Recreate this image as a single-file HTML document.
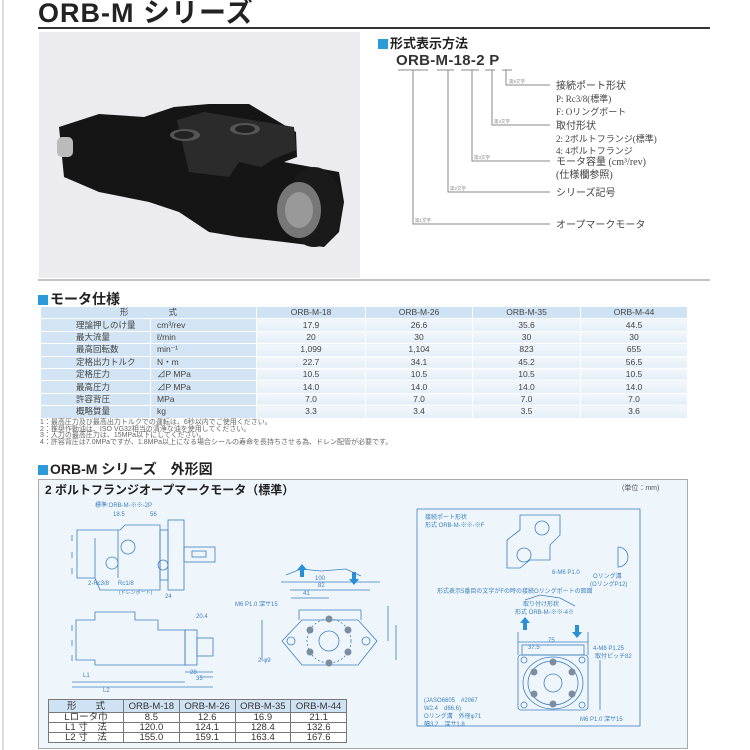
<!DOCTYPE html>
<html><head><meta charset="utf-8"><style>
*{margin:0;padding:0;box-sizing:border-box}
body{width:750px;height:750px;background:#fff;position:relative;overflow:hidden;font-family:"Liberation Sans","Noto Sans CJK JP",sans-serif;color:#333}
.a{position:absolute;white-space:nowrap}
.h{font-weight:bold;font-size:14px;color:#222}
.h:before{content:"";display:inline-block;width:10px;height:10px;background:#2a9ad8;margin-right:2px;vertical-align:-1px}
table{border-collapse:collapse;position:absolute;table-layout:fixed}
#sp{left:40px;top:306px;width:647px;font-size:8.5px}
#sp td{height:12.4px;line-height:11px;border:1px solid #fff;text-align:center;padding:0;color:#444;background:linear-gradient(#f3f8fc,#e4eef7);white-space:nowrap;overflow:hidden}
#sp td.l{background:#d3e5f4;text-align:left;padding-left:35px}
#sp td.u{background:#d3e5f4;text-align:left;padding-left:6px}
#sp tr:first-child td{background:#cfe3f4}
#bt{left:48px;top:699px;width:299px;font-size:9.5px;border:1px solid #555}
#bt td{border:1px solid #777;text-align:center;height:10px;padding:0;line-height:9px;background:#fff}
#bt tr:first-child td{background:#cfe2f3;height:13px}
.n{font-size:7px;color:#666;line-height:6.6px}
</style></head><body>
<div class="a" style="left:2px;top:0;width:2px;height:750px;background:#ddd"></div>
<div class="a" style="left:38px;top:0px;font-size:27px;line-height:27px;font-weight:bold;color:#222;letter-spacing:1px">ORB-M シリーズ</div>
<div class="a" style="left:38px;top:27px;width:672px;height:2px;background:#333"></div>
<div class="a" style="left:39px;top:32px;width:321px;height:246px;background:#ececee"></div>
<svg class="a" style="left:39px;top:32px" width="321" height="246">
<polygon points="20,95 60,82 105,85 135,75 170,72 210,72 257,100 258,125 245,130 300,140 305,170 300,200 285,215 245,210 200,205 170,200 140,180 110,170 60,160 25,145" fill="#151515"/>
<polygon points="138,88 165,80 255,95 257,118 235,127 222,135 200,130 190,145 150,140" fill="#2b2b2b"/>
<ellipse cx="146" cy="103" rx="15" ry="6" fill="#555"/><ellipse cx="206" cy="97" rx="15" ry="6" fill="#555"/>
<ellipse cx="145" cy="103" rx="10" ry="4" fill="#222"/><ellipse cx="206" cy="97" rx="10" ry="4" fill="#222"/>
<rect x="18" y="105" width="16" height="20" rx="5" fill="#bbb"/>
<ellipse cx="275" cy="175" rx="28" ry="40" fill="#1a1a1a"/>
<ellipse cx="260" cy="178" rx="22" ry="28" fill="#777"/>
<ellipse cx="260" cy="178" rx="14" ry="18" fill="#999"/>
</svg>
<div class="a h" style="left:378px;top:33px;font-size:13px">形式表示方法</div>
<div class="a" style="left:396px;top:52px;font-size:15px;font-weight:bold;color:#333;letter-spacing:0.3px">ORB-M-18-2 P</div>
<svg class="a" style="left:0;top:0" width="750" height="300">
<g stroke="#888" stroke-width="1" fill="none">
<path d="M398 70h30M437 70h17M461 70h18M485 70h10M502 70h10"/>
<path d="M413 70V224H550M448 70V192H550M472 70V161H550M492 70V125H550M506 70V85H550"/>
<path d="M38 280H710"/>
</g>
<g font-size="4.5" fill="#888" font-family="Liberation Sans,Noto Sans CJK JP,sans-serif">
<text x="415" y="222">第1文字</text><text x="450" y="190">第2文字</text><text x="474" y="159">第3文字</text><text x="494" y="123">第4文字</text><text x="509" y="83">第5文字</text>
</g>
<g font-size="10" fill="#444" font-family="Liberation Serif,Noto Sans CJK JP,sans-serif">
<text x="556" y="89">接続ポート形状</text><text x="556" y="102" font-size="9">P:  Rc3/8(標準)</text><text x="556" y="115" font-size="9">F:  Oリングポート</text>
<text x="556" y="129">取付形状</text><text x="556" y="142" font-size="9">2:  2ボルトフランジ(標準)</text><text x="556" y="154" font-size="9">4:  4ボルトフランジ</text>
<text x="556" y="165">モータ容量 (cm³/rev)</text><text x="556" y="178">(仕様欄参照)</text>
<text x="556" y="196">シリーズ記号</text><text x="556" y="228">オープマークモータ</text>
</g></svg>
<div class="a h" style="left:38px;top:289px">モータ仕様</div>
<table id="sp">
<colgroup><col style="width:110px"><col style="width:106px"><col style="width:109px"><col style="width:107px"><col style="width:108px"><col style="width:107px"></colgroup>
<tr><td colspan="2" style="letter-spacing:40px;padding-left:40px">形式</td><td>ORB-M-18</td><td>ORB-M-26</td><td>ORB-M-35</td><td>ORB-M-44</td></tr>
<tr><td class="l">理論押しのけ量</td><td class="u">cm³/rev</td><td>17.9</td><td>26.6</td><td>35.6</td><td>44.5</td></tr>
<tr><td class="l">最大流量</td><td class="u">ℓ/min</td><td>20</td><td>30</td><td>30</td><td>30</td></tr>
<tr><td class="l">最高回転数</td><td class="u">min⁻¹</td><td>1,099</td><td>1,104</td><td>823</td><td>655</td></tr>
<tr><td class="l">定格出力トルク</td><td class="u">N・m</td><td>22.7</td><td>34.1</td><td>45.2</td><td>56.5</td></tr>
<tr><td class="l">定格圧力</td><td class="u">⊿P  MPa</td><td>10.5</td><td>10.5</td><td>10.5</td><td>10.5</td></tr>
<tr><td class="l">最高圧力</td><td class="u">⊿P  MPa</td><td>14.0</td><td>14.0</td><td>14.0</td><td>14.0</td></tr>
<tr><td class="l">許容背圧</td><td class="u">MPa</td><td>7.0</td><td>7.0</td><td>7.0</td><td>7.0</td></tr>
<tr><td class="l">概略質量</td><td class="u">kg</td><td>3.3</td><td>3.4</td><td>3.5</td><td>3.6</td></tr>
</table>
<div class="a n" style="left:40px;top:420px">1：最高圧力及び最高出力トルクでの運転は、6秒以内でご使用ください。<br>2：推奨作動油は、ISO VG32相当の清浄な油を使用してください。<br>3：入力の最高圧力は、15MPa以下にしてください。<br>4：許容背圧は7.0MPaですが、1.8MPa以上になる場合シールの寿命を長持ちさせる為、ドレン配管が必要です。</div>
<div class="a h" style="left:38px;top:459px">ORB-M シリーズ　外形図</div>
<div class="a" style="left:38px;top:479px;width:650px;height:270px;background:#eef6fc;border:1px solid #aaa"></div>
<div class="a" style="left:45px;top:481px;font-size:12px;font-weight:bold;color:#222">2 ボルトフランジオープマークモータ（標準）</div>
<div class="a" style="left:622px;top:483px;font-size:7px;color:#555">(単位：mm)</div>
<svg class="a" style="left:0;top:0" width="750" height="750" font-family="Liberation Sans,Noto Sans CJK JP,sans-serif">
<g stroke="#3f7fbf" stroke-width="0.8" fill="none">
<rect x="417" y="509" width="223" height="217"/>
<path d="M77 530H120L125 525H160V590H100L95 578H77Z"/>
<rect x="168" y="520" width="16" height="70"/><rect x="160" y="530" width="8" height="50"/>
<rect x="184" y="547" width="31" height="15"/><rect x="192" y="551" width="14" height="6"/>
<path d="M72 535v6M72 552v6M72 568v6"/>
<circle cx="128" cy="547" r="7"/><circle cx="112" cy="563" r="6"/><circle cx="163" cy="565" r="5"/>
<path d="M95 538V578M118 530V578"/>
<path d="M76 620H95V612H135V620H158V630H185V665H95V660H76Z"/>
<rect x="185" y="630" width="12" height="35"/><rect x="197" y="638" width="16" height="18"/>
<path d="M72 625v6M72 640v6M72 655v6"/>
<path d="M72 682H185M72 687H213M185 672H213M200 677H213"/>
<path d="M299 620V610H361V620"/>
<path d="M282 641L302 620H358L377 641L358 665H302Z"/>
<circle cx="329" cy="641" r="10"/><circle cx="329" cy="641" r="22" stroke-dasharray="2 2"/>
<circle cx="291" cy="641" r="4"/><circle cx="366" cy="641" r="4"/>
<path d="M281 582H380M290 590H370M291 598H329"/>
<path d="M388 606V641M396 625V660M262 620V660"/>
<path d="M520 515H560V535L550 545V560H530L520 568H507V540L520 530Z"/>
<circle cx="542" cy="528" r="7"/><circle cx="524" cy="555" r="7"/>
<path d="M618 547a10 10 0 0 1 0 20Z"/>
<rect x="518" y="655" width="70" height="55" rx="3"/><rect x="522" y="645" width="62" height="10"/>
<ellipse cx="553" cy="683" rx="30" ry="26"/><ellipse cx="553" cy="683" rx="25" ry="22"/>
<circle cx="553" cy="683" r="9"/>
<circle cx="524" cy="660" r="3"/><circle cx="582" cy="660" r="3"/><circle cx="524" cy="705" r="3"/><circle cx="582" cy="705" r="3"/>
<path d="M518 642H588M518 632V655M588 632V655M600 660V710M525 600l15-5 20 3 15 8"/>
<path d="M286 575l15-6 20 2 25-2 15 7"/>
</g>
<g fill="#7c8da0">
<circle cx="329" cy="619" r="3.5"/><circle cx="329" cy="663" r="3.5"/><circle cx="310" cy="630" r="3.5"/><circle cx="348" cy="630" r="3.5"/><circle cx="310" cy="652" r="3.5"/><circle cx="348" cy="652" r="3.5"/>
<circle cx="553" cy="662" r="3.5"/><circle cx="553" cy="704" r="3.5"/><circle cx="534" cy="672" r="3.5"/><circle cx="572" cy="672" r="3.5"/><circle cx="534" cy="694" r="3.5"/><circle cx="572" cy="694" r="3.5"/>
</g>
<g fill="#2a8fd6"><path d="M300 577h4v-7h3l-5-6-5 6h3z"/><path d="M352 572h4v7h3l-5 6-5-6h3z"/><path d="M523 630h4v-7h3l-5-6-5 6h3z"/><path d="M575 625h4v7h3l-5 6-5-6h3z"/></g>
<g font-size="6" fill="#3f7fbf">
<text x="95" y="507">標準:ORB-M-※※-2P</text><text x="113" y="516">18.5</text><text x="150" y="516">56</text>
<text x="88" y="585">2-Rc3/8</text><text x="118" y="585">Rc1/8</text><text x="119" y="594" font-size="5">(ドレンポート)</text><text x="165" y="598">24</text>
<text x="315" y="580">100</text><text x="318" y="587">82</text><text x="303" y="595">41</text><text x="235" y="606">M6 P1.0 深サ15</text><text x="258" y="662">2-φ9</text>
<text x="196" y="618">20.4</text><text x="83" y="677">L1</text><text x="103" y="692">L2</text><text x="190" y="674">28</text><text x="196" y="680">35</text>
<text x="425" y="519">接続ポート形状</text><text x="425" y="527">形式 ORB-M-※※-※F</text>
<text x="437" y="593">形式表示5番目の文字がFの時の接続Oリングポートの図面</text>
<text x="593" y="578">Oリング溝</text><text x="590" y="586">(OリングP12)</text><text x="552" y="574">6-M6 P1.0</text>
<text x="523" y="606">取り付け形状</text><text x="515" y="614">形式 ORB-M-※※-4※</text>
<text x="548" y="642">75</text><text x="528" y="649">37.5</text><text x="593" y="650">4-M8 P1.25</text><text x="595" y="658">取付ピッチ82</text>
<text x="424" y="702">(JASO6605　#2067</text><text x="424" y="710">W2.4　d66.6)</text><text x="424" y="718">Oリング溝　外径φ71</text><text x="424" y="726">幅3.2　深サ1.8</text><text x="580" y="721">M6 P1.0 深サ15</text>
</g></svg>
<table id="bt">
<colgroup><col style="width:75px"><col><col><col><col></colgroup>
<tr><td>形　　式</td><td>ORB-M-18</td><td>ORB-M-26</td><td>ORB-M-35</td><td>ORB-M-44</td></tr>
<tr><td>Lロータ巾</td><td>8.5</td><td>12.6</td><td>16.9</td><td>21.1</td></tr>
<tr><td>L1 寸　法</td><td>120.0</td><td>124.1</td><td>128.4</td><td>132.6</td></tr>
<tr><td>L2 寸　法</td><td>155.0</td><td>159.1</td><td>163.4</td><td>167.6</td></tr>
</table>
</body></html>
